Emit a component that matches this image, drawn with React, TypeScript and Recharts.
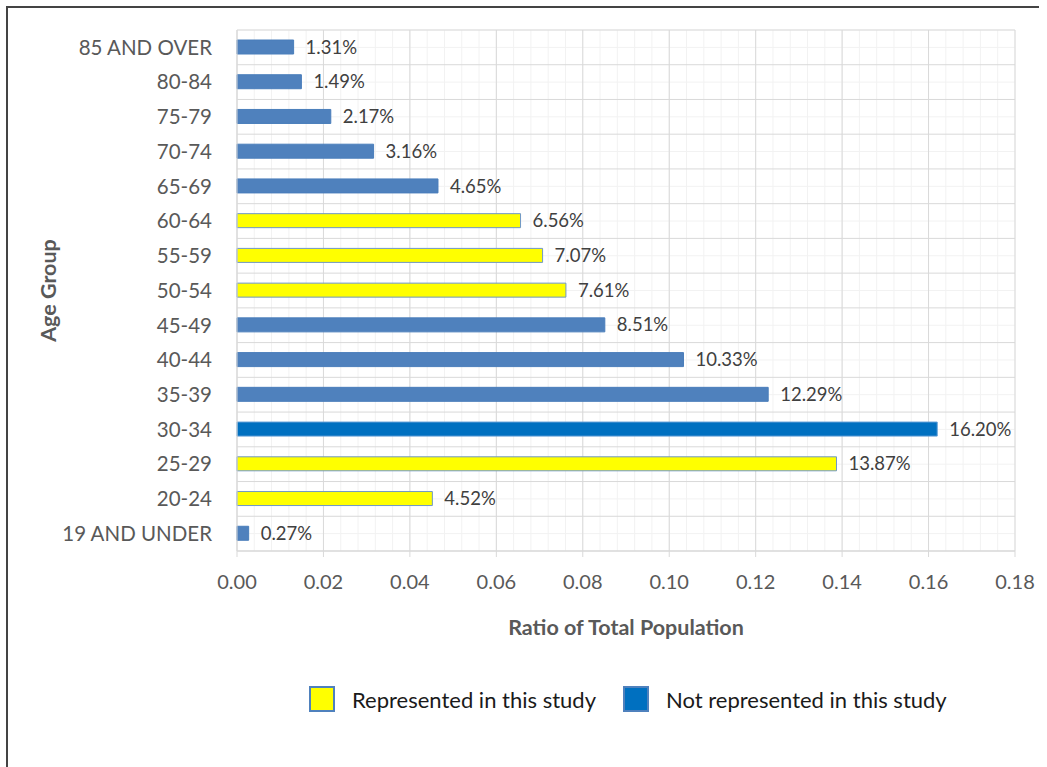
import { BarChart, Bar, Cell, XAxis, YAxis, CartesianGrid, LabelList, Label } from 'recharts';

const categories = [
  '85 AND OVER', '80-84', '75-79', '70-74', '65-69', '60-64', '55-59', '50-54',
  '45-49', '40-44', '35-39', '30-34', '25-29', '20-24', '19 AND UNDER',
];
const ratios = [
  0.0131, 0.0149, 0.0217, 0.0316, 0.0465, 0.0656, 0.0707, 0.0761,
  0.0851, 0.1033, 0.1229, 0.162, 0.1387, 0.0452, 0.0027,
];
const represented = [
  false, false, false, false, false, true, true, true,
  false, false, false, false, true, true, false,
];
const emphasized = '30-34';
const xTicks = [0, 0.02, 0.04, 0.06, 0.08, 0.1, 0.12, 0.14, 0.16, 0.18];
const X_MAX = 0.18;

const FONT = 'Lato, "Noto Sans", sans-serif';
const BLUE = '#4F81BD';
const DARK_BLUE = '#0070C0';
const YELLOW = '#FFFF00';

const data = categories.map((name, i) => ({ name, value: ratios[i], rep: represented[i] }));

function vGen(step: number) {
  return ({ xAxis, offset }: any) => {
    const vals: number[] = [];
    for (let k = 0; k * step <= X_MAX + 1e-9; k++) vals.push(k * step);
    const s = xAxis && xAxis.scale;
    return vals.map((v) => (typeof s === 'function' ? s(v) : offset.left + (offset.width * v) / X_MAX));
  };
}

const hMajor = ({ offset }: any) => {
  const band = offset.height / categories.length;
  return categories.map((_, i) => offset.top + i * band).concat(offset.top + offset.height);
};

function LegendBox() {
  const item = (fill: string, text: string, gapAfter: number) => (
    <div style={{ display: 'flex', alignItems: 'center', marginRight: gapAfter }}>
      <div style={{ width: 22, height: 22, background: fill, border: '2px solid #4F81BD', marginRight: 17 }} />
      <span style={{ fontSize: 22, color: '#1a1a1a', fontFamily: FONT, whiteSpace: 'nowrap' }}>{text}</span>
    </div>
  );
  return (
    <div style={{ position: 'absolute', left: 309, top: 686, height: 26, display: 'flex', alignItems: 'center' }}>
      {item(YELLOW, 'Represented in this study', 27)}
      {item(DARK_BLUE, 'Not represented in this study', 0)}
    </div>
  );
}

export default function App() {
  return (
    <div style={{ position: 'absolute', left: 0, top: 0, width: 1047, height: 767, background: '#fff', overflow: 'hidden' }}>
      <div style={{ position: 'absolute', left: 6, top: 6, width: 1031, height: 800, borderLeft: '2px solid #444', borderTop: '2px solid #444' }} />
      <BarChart
        layout="vertical"
        width={1047}
        height={767}
        data={data}
        margin={{ top: 30, right: 32, bottom: 126, left: 0 }}
        style={{ position: 'absolute', left: 0, top: 0, fontFamily: FONT }}
      >
        <CartesianGrid stroke="#f2f2f2" verticalCoordinatesGenerator={vGen(0.004)} />
        <CartesianGrid stroke="#d9d9d9" verticalCoordinatesGenerator={vGen(0.02)} horizontalCoordinatesGenerator={hMajor} />
        <XAxis
          type="number"
          domain={[0, X_MAX]}
          ticks={xTicks}
          tickFormatter={(v: number) => v.toFixed(2)}
          stroke="#d9d9d9"
          tickSize={6}
          tickMargin={18}
          tick={{ fill: '#595959', fontSize: 20 }}
          height={90}
        >
          <Label
            content={({ viewBox }: any) => (
              <text
                x={viewBox.x + viewBox.width / 2}
                y={viewBox.y + 76}
                textAnchor="middle"
                dominantBaseline="central"
                fill="#595959"
                fontSize={21.5}
                fontWeight="bold"
                fontFamily={FONT}
              >
                Ratio of Total Population
              </text>
            )}
          />
        </XAxis>
        <YAxis
          type="category"
          dataKey="name"
          width={237}
          stroke="#d9d9d9"
          tickLine={false}
          tickSize={0}
          tickMargin={25}
          interval={0}
          tick={{ fill: '#595959', fontSize: 20.5 }}
        >
          <Label
            content={({ viewBox }: any) => {
              const cx = viewBox.x + 48;
              const cy = viewBox.y + viewBox.height / 2;
              return (
                <text
                  x={cx}
                  y={cy}
                  transform={`rotate(-90 ${cx} ${cy})`}
                  textAnchor="middle"
                  dominantBaseline="central"
                  fill="#595959"
                  fontSize={21.5}
                  fontWeight="bold"
                  fontFamily={FONT}
                >
                  Age Group
                </text>
              );
            }}
          />
        </YAxis>
        <Bar dataKey="value" barSize={14} isAnimationActive={false}>
          {data.map((d) => (
            <Cell
              key={d.name}
              fill={d.rep ? YELLOW : d.name === emphasized ? DARK_BLUE : BLUE}
              stroke={d.rep ? '#6f97c8' : d.name === emphasized ? '#5b9bd5' : '#4a7ebb'}
              strokeWidth={1}
            />
          ))}
          <LabelList
            dataKey="value"
            position="right"
            offset={12}
            formatter={(v: any) => `${(Number(v) * 100).toFixed(2)}%`}
            fill="#404040"
            fontSize={18.5}
            fontFamily={FONT}
          />
        </Bar>
      </BarChart>
      <LegendBox />
    </div>
  );
}
